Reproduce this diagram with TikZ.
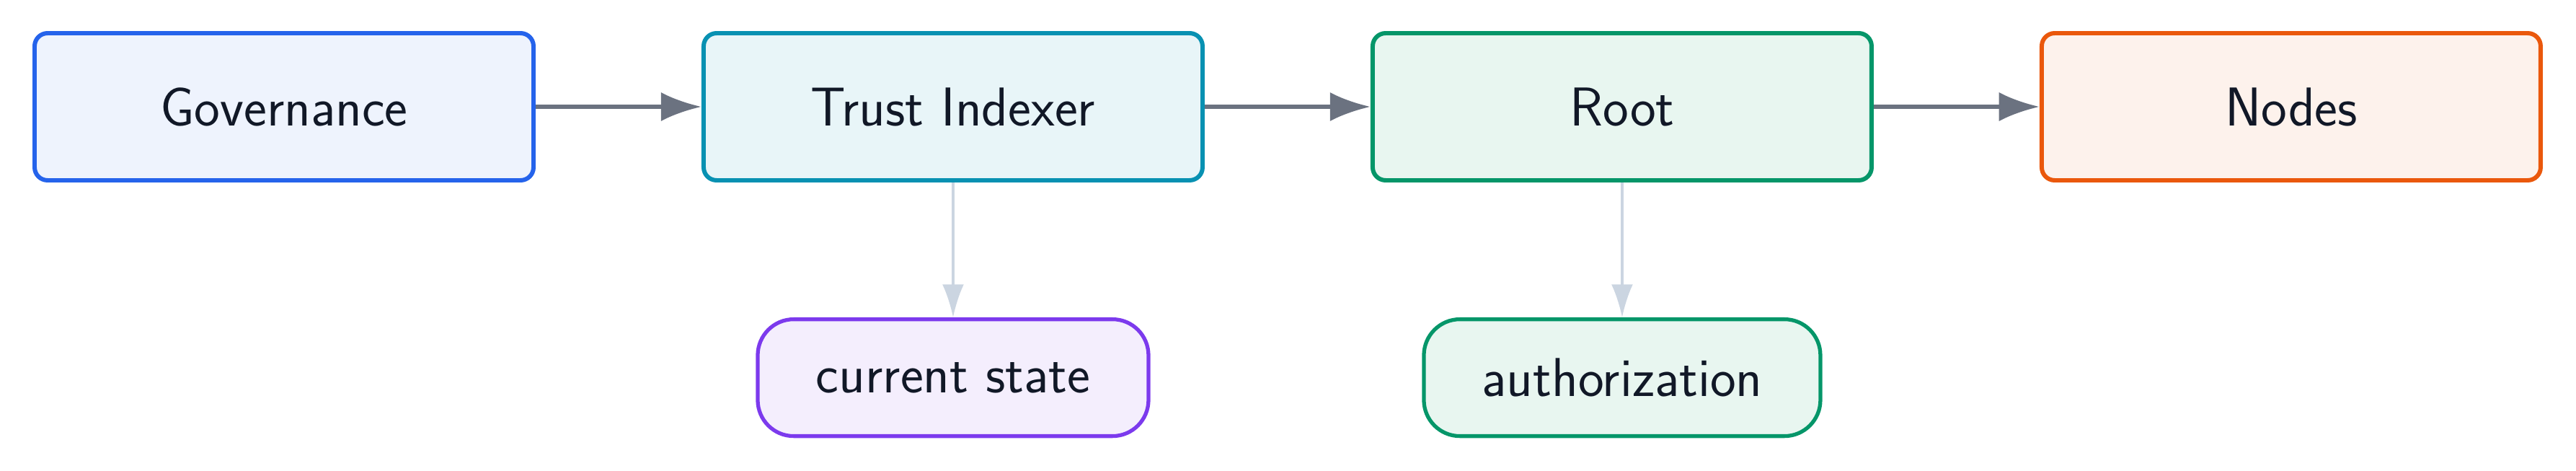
\documentclass[tikz,border=0pt]{standalone}
\usepackage{fontspec}
\usetikzlibrary{positioning,arrows.meta}

\definecolor{govline}{HTML}{2563EB}
\definecolor{govfill}{HTML}{EEF3FD}
\definecolor{trustline}{HTML}{0891B2}
\definecolor{trustfill}{HTML}{E8F5F8}
\definecolor{rootline}{HTML}{059669}
\definecolor{rootfill}{HTML}{E8F6F0}
\definecolor{nodesline}{HTML}{EA580C}
\definecolor{nodesfill}{HTML}{FDF2EC}
\definecolor{stateline}{HTML}{7C3AED}
\definecolor{statefill}{HTML}{F4EEFD}
\definecolor{flowgray}{HTML}{6B7280}
\definecolor{linkgray}{HTML}{CBD5E1}
\definecolor{ink}{HTML}{111827}

\tikzset{
  stage/.style={draw, line width=1.7pt, rounded corners=0.18cm, inner sep=0pt,
    minimum width=6.92cm, minimum height=2.04cm, text=ink,
    font=\sffamily\fontsize{21.6}{26}\selectfont},
  detail/.style={draw, line width=1.5pt, rounded corners=0.5cm, inner sep=0pt,
    minimum height=1.62cm, text=ink,
    font=\sffamily\fontsize{21.6}{26}\selectfont},
  flow/.style={flowgray, line width=1.7pt, -{Latex[length=16pt,width=11.5pt]}},
  link/.style={linkgray, line width=1pt, -{Latex[length=13pt,width=8.5pt]}},
}

\begin{document}
\begin{tikzpicture}
    \useasboundingbox (0,0) rectangle (35.73,6.52);
    \node[stage, draw=govline, fill=govfill] (gov) at (3.94,5.04) {Governance};
    \node[stage, draw=trustline, fill=trustfill, right=2.3cm of gov] (trust) {Trust Indexer};
    \node[stage, draw=rootline, fill=rootfill, right=2.3cm of trust] (root) {Root};
    \node[stage, draw=nodesline, fill=nodesfill, right=2.3cm of root] (nodes) {Nodes};
    \node[detail, draw=stateline, fill=statefill, minimum width=5.42cm,
      below=1.87cm of trust] (state) {current state};
    \node[detail, draw=rootline, fill=rootfill, minimum width=5.50cm,
      below=1.87cm of root] (auth) {authorization};
    \draw[flow] (gov) -- (trust);
    \draw[flow] (trust) -- (root);
    \draw[flow] (root) -- (nodes);
    \draw[link] (trust) -- (state);
    \draw[link] (root) -- (auth);
  \end{tikzpicture}
\end{document}
